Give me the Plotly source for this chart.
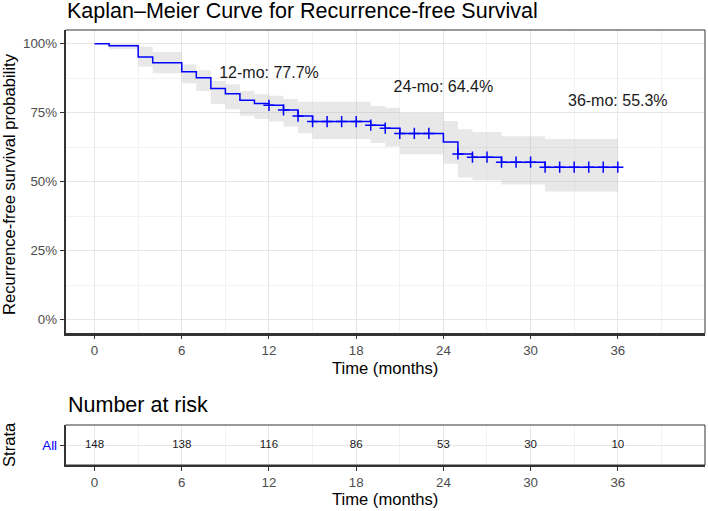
import numpy as np
import plotly.graph_objects as go

# ---------------- data ----------------
step_times = [0, 1, 3, 4, 6, 7, 8, 9, 10, 11, 12, 13, 14, 15, 19, 20, 21, 24, 25, 26, 28, 31]
step_surv = [1.0, 0.993, 0.952, 0.931, 0.899, 0.877, 0.838, 0.819, 0.795, 0.784, 0.777, 0.760,
             0.738, 0.718, 0.705, 0.694, 0.675, 0.644, 0.601, 0.589, 0.571, 0.553]
ci_upper = [1.0, 1.0, 0.99, 0.97, 0.925, 0.904, 0.865, 0.853, 0.829, 0.817, 0.812, 0.80,
            0.79, 0.79, 0.775, 0.768, 0.75, 0.72, 0.69, 0.68, 0.665, 0.655]
ci_lower = [1.0, 0.98, 0.918, 0.893, 0.857, 0.829, 0.782, 0.763, 0.739, 0.727, 0.718, 0.70,
            0.676, 0.655, 0.64, 0.628, 0.60, 0.565, 0.515, 0.505, 0.49, 0.465]
end_time = 36
censor_times = [12, 13, 14, 15, 16, 17, 18, 19, 20, 21, 22, 23, 25, 26, 27, 28, 29, 30,
                31, 32, 33, 34, 35, 36]

landmark_times = [12, 24, 36]
landmark_labels = ["12-mo: 77.7%", "24-mo: 64.4%", "36-mo: 55.3%"]
landmark_label_y = [0.89, 0.84, 0.79]

risk_times = [0, 6, 12, 18, 24, 30, 36]
risk_counts = [148, 138, 116, 86, 53, 30, 10]
strata_labels = ["All"]

x_ticks = [0, 6, 12, 18, 24, 30, 36]
x_minor = [3, 9, 15, 21, 27, 33, 39]
y_ticks = [0, 0.25, 0.5, 0.75, 1.0]
y_ticklabels = ["0%", "25%", "50%", "75%", "100%"]
y_minor = [0.125, 0.375, 0.625, 0.875]

# ---------------- layout geometry ----------------
W, H = 708, 511
FONT = "Liberation Sans, Arial, sans-serif"
BLUE = "#0000FF"

def px_x(p):
    return p / W

def px_y(p):
    return 1 - p / H

x_dom = [px_x(65.5), px_x(705)]
top_dom = [px_y(333.5), px_y(30)]
bot_dom = [px_y(465), px_y(425)]

xs = list(step_times) + [end_time]
ys = list(step_surv) + [step_surv[-1]]
up = list(ci_upper) + [ci_upper[-1]]
lo = list(ci_lower) + [ci_lower[-1]]

idx = np.searchsorted(np.array(step_times), np.array(censor_times), side="right") - 1
censor_y = [step_surv[i] for i in idx]

fig = go.Figure()

# confidence band
fig.add_trace(go.Scatter(x=xs, y=lo, mode="lines", line=dict(width=0, shape="hv"),
                         hoverinfo="skip", showlegend=False, xaxis="x", yaxis="y"))
fig.add_trace(go.Scatter(x=xs, y=up, mode="lines", line=dict(width=0, shape="hv"),
                         fill="tonexty", fillcolor="rgba(185,185,185,0.32)",
                         hoverinfo="skip", showlegend=False, xaxis="x", yaxis="y"))
# KM curve
fig.add_trace(go.Scatter(x=xs, y=ys, mode="lines", line=dict(color=BLUE, width=1.5, shape="hv"),
                         showlegend=False, xaxis="x", yaxis="y"))
# censor marks
fig.add_trace(go.Scatter(x=censor_times, y=censor_y, mode="markers",
                         marker=dict(symbol="cross-thin-open", size=8, color=BLUE,
                                     line=dict(color=BLUE, width=1.5)),
                         showlegend=False, xaxis="x", yaxis="y"))
# landmark labels
fig.add_trace(go.Scatter(x=landmark_times, y=landmark_label_y, mode="text", text=landmark_labels,
                         textfont=dict(family=FONT, size=16, color="#1a1a1a"),
                         showlegend=False, xaxis="x", yaxis="y"))
# risk table numbers
fig.add_trace(go.Scatter(x=risk_times, y=[0] * len(risk_times), mode="text",
                         text=[str(v) for v in risk_counts],
                         textfont=dict(family=FONT, size=11.5, color="#1a1a1a"),
                         showlegend=False, xaxis="x2", yaxis="y2"))

tickfont = dict(family=FONT, size=13.3, color="#4d4d4d")
grid_major = "#e6e6e6"
grid_minor = "#f2f2f2"

common_x = dict(range=[-2, 42], tickmode="array", tickvals=x_ticks,
                ticktext=[str(v) for v in x_ticks], showgrid=True, gridcolor=grid_major,
                gridwidth=1, zeroline=False, ticks="outside", ticklen=4, tickcolor="#333333",
                tickwidth=1, tickfont=tickfont, showline=True, linecolor="#333333", linewidth=1.5,
                minor=dict(tickmode="array", tickvals=x_minor, showgrid=True,
                           gridcolor=grid_minor, gridwidth=1, ticks=""),
                domain=x_dom, fixedrange=True)

fig.update_layout(
    width=W, height=H, autosize=False,
    margin=dict(l=0, r=0, t=0, b=0),
    paper_bgcolor="white", plot_bgcolor="white",
    font=dict(family=FONT, color="#1a1a1a"),
    xaxis=dict(anchor="y", **common_x),
    yaxis=dict(anchor="x", domain=top_dom, range=[-0.05, 1.05], tickmode="array",
               tickvals=y_ticks, ticktext=y_ticklabels, showgrid=True, gridcolor=grid_major,
               zeroline=False, ticks="outside", ticklen=4, tickcolor="#333333", tickfont=tickfont,
               showline=True, linecolor="#333333", linewidth=1.5,
               minor=dict(tickmode="array", tickvals=y_minor, showgrid=True,
                          gridcolor=grid_minor, gridwidth=1, ticks=""),
               fixedrange=True),
    xaxis2=dict(anchor="y2", **common_x),
    yaxis2=dict(anchor="x2", domain=bot_dom, range=[-0.55, 0.55], tickmode="array",
                tickvals=[0], ticktext=strata_labels, showgrid=True, gridcolor=grid_major,
                zeroline=False, ticks="outside", ticklen=4, tickcolor="#333333",
                tickfont=dict(family=FONT, size=13.3, color=BLUE),
                showline=True, linecolor="#333333", linewidth=1.5, fixedrange=True),
    showlegend=False,
)

# panel borders
for xr, yr in [("x domain", "y domain"), ("x2 domain", "y2 domain")]:
    fig.add_shape(type="rect", xref=xr, yref=yr, x0=0, x1=1, y0=0, y1=1,
                  line=dict(color="#333333", width=1), layer="above")

ann = [
    dict(text="Kaplan–Meier Curve for Recurrence-free Survival", x=px_x(65), y=px_y(11),
         xanchor="left", yanchor="middle", font=dict(size=21.5, family=FONT, color="#000000")),
    dict(text="Number at risk", x=px_x(65.5), y=px_y(405), xanchor="left", yanchor="middle",
         font=dict(size=21.5, family=FONT, color="#000000")),
    dict(text="Recurrence-free survival probability", x=px_x(9), y=px_y(184), textangle=-90,
         xanchor="center", yanchor="middle", font=dict(size=16.6, family=FONT, color="#000000")),
    dict(text="Strata", x=px_x(9), y=px_y(445), textangle=-90,
         xanchor="center", yanchor="middle", font=dict(size=16.6, family=FONT, color="#000000")),
    dict(text="Time (months)", x=(x_dom[0] + x_dom[1]) / 2, y=px_y(368), xanchor="center",
         yanchor="middle", font=dict(size=16.6, family=FONT, color="#000000")),
    dict(text="Time (months)", x=(x_dom[0] + x_dom[1]) / 2, y=px_y(499.5), xanchor="center",
         yanchor="middle", font=dict(size=16.6, family=FONT, color="#000000")),
]
for a in ann:
    fig.add_annotation(xref="paper", yref="paper", showarrow=False, **a)

fig.write_html("out.html")
